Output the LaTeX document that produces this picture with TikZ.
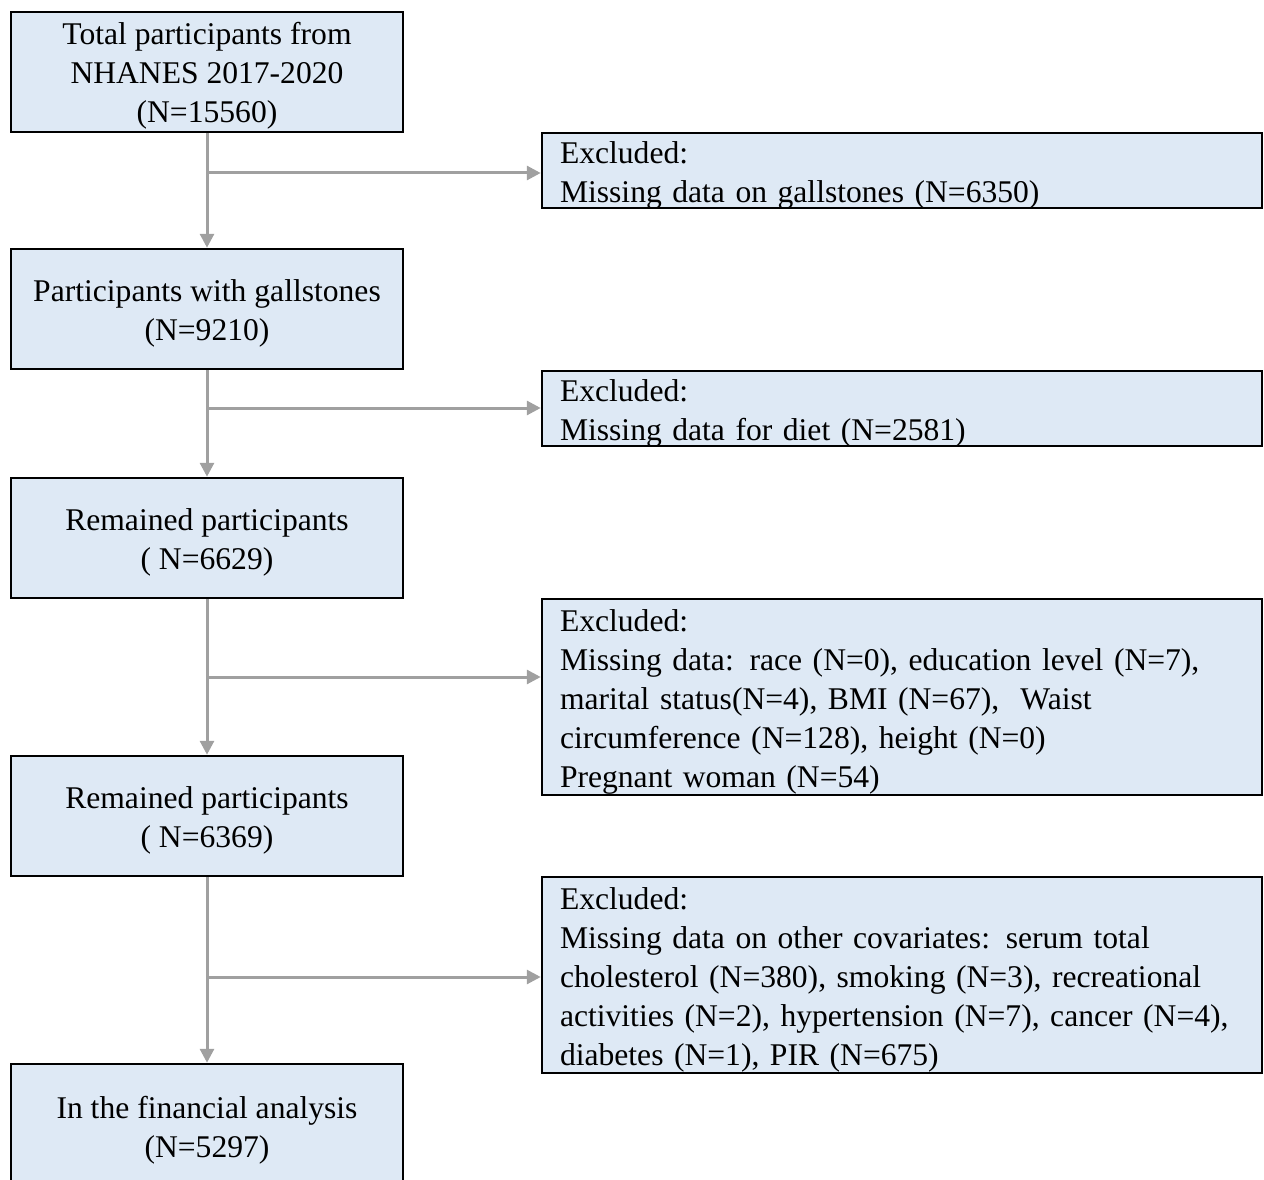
\documentclass[tikz,border=0pt]{standalone}
\usepackage{fontspec}
\setmainfont{Liberation Serif}
\usetikzlibrary{arrows.meta,calc}
\definecolor{boxfill}{HTML}{DEE9F5}
\definecolor{arrgray}{HTML}{A0A0A0}
\begin{document}
\begin{tikzpicture}[x=1pt,y=-1pt,
  txt/.style={font=\fontsize{31.6}{39}\selectfont,inner sep=0pt},
  ctxt/.style={txt,align=center},
  ltxt/.style={txt,text width=690pt,align=left},
  mainbox/.style={draw=black,line width=2.5pt,fill=boxfill,rectangle,minimum width=392pt,minimum height=120pt,inner sep=0pt},
  exbox/.style={draw=black,line width=2.5pt,fill=boxfill,rectangle,minimum width=720pt,inner sep=0pt},
  flow/.style={draw=arrgray,line width=3pt,-{Triangle[length=14pt,width=14pt]}}]
\useasboundingbox (0,0) rectangle (1264,1180);
% left boxes
\node[mainbox] (m1) at (207,72) {};
\node[mainbox] (m2) at (207,309) {};
\node[mainbox] (m3) at (207,538) {};
\node[mainbox] (m4) at (207,816) {};
\node[mainbox,minimum height=130pt] (m5) at (207,1129) {};
\node[ctxt] (m1t) at (207,76) {Total participants from\\NHANES 2017-2020\\(N=15560)};
\node[ctxt] (m2t) at (207,313) {Participants with gallstones\\(N=9210)};
\node[ctxt] (m3t) at (207,542) {Remained participants\\( N=6629)};
\node[ctxt] (m4t) at (207,820) {Remained participants\\( N=6369)};
\node[ctxt] (m5t) at (207,1130) {In the financial analysis\\(N=5297)};
% right boxes
\node[exbox,minimum height=75pt] (r1) at (902,170.5) {};
\node[exbox,minimum height=75pt] (r2) at (902,408.5) {};
\node[exbox,minimum height=196pt] (r3) at (902,697) {};
\node[exbox,minimum height=196pt] (r4) at (902,975) {};
\node[ltxt] (r1t) at (905,175) {Excluded:\\Missing data on gallstones (N=6350)};
\node[ltxt] (r2t) at (905,413) {Excluded:\\Missing data for diet (N=2581)};
\node[ltxt] (r3t) at (905,702) {Excluded:\\Missing data: race (N=0), education level (N=7),\\marital status(N=4), BMI (N=67),\ \ Waist\\circumference (N=128), height (N=0)\\Pregnant woman (N=54)};
\node[ltxt] (r4t) at (905,980) {Excluded:\\Missing data on other covariates: serum total\\cholesterol (N=380), smoking (N=3), recreational\\activities (N=2), hypertension (N=7), cancer (N=4),\\diabetes (N=1), PIR (N=675)};
% connectors
\draw[flow] (m1.south) -- (m2.north);
\draw[flow] (m2.south) -- (m3.north);
\draw[flow] (m3.south) -- (m4.north);
\draw[flow] (m4.south) -- (m5.north);
\coordinate (b1) at (207,173);
\coordinate (b2) at (207,408);
\coordinate (b3) at (207,677);
\coordinate (b4) at (207,977);
\draw[flow] (b1) -- (b1 -| r1.west);
\draw[flow] (b2) -- (b2 -| r2.west);
\draw[flow] (b3) -- (b3 -| r3.west);
\draw[flow] (b4) -- (b4 -| r4.west);
\end{tikzpicture}
\end{document}
